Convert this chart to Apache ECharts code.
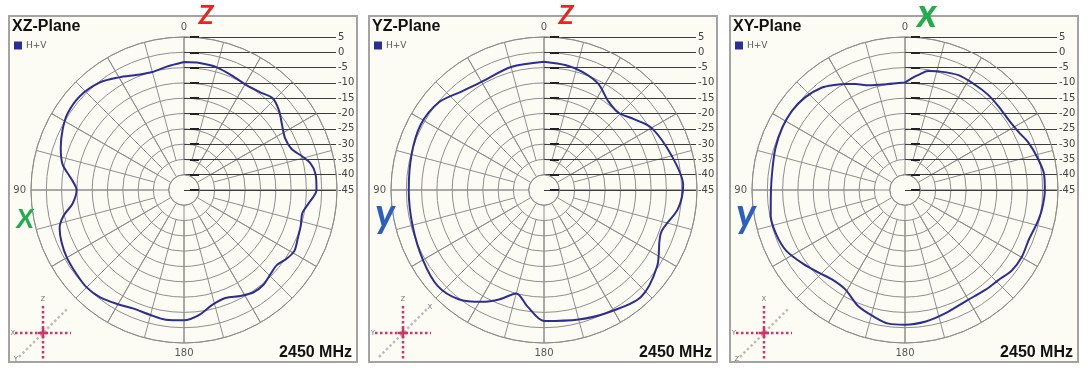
<!DOCTYPE html>
<html><head><meta charset="utf-8">
<script src="https://cdn.jsdelivr.net/npm/echarts@6/dist/echarts.min.js"></script>
<style>
html,body{margin:0;padding:0;background:#ffffff;}
#wrap{position:relative;width:1089px;height:372px;overflow:hidden;}
.panel{position:absolute;top:15px;width:346px;height:344px;background:#fcfbf4;border:2px solid #a3a3a3;}
#c{position:absolute;left:0;top:0;width:1089px;height:372px;}
</style>
</head><body>
<div id="wrap">
<div class="panel" style="left:8px"></div>
<div class="panel" style="left:368px"></div>
<div class="panel" style="left:729px"></div>
<div id="c"></div>
</div>
<script>
// ---------- data ----------
const panelTitles = ['XZ-Plane', 'YZ-Plane', 'XY-Plane'];
const frequencyLabel = '2450 MHz';
const seriesName = 'H+V';
const radialMin = -45, radialMax = 5, radialStep = 5;
const angleLabelValues = [0, 90, 180];

const anglesXZ = [0, 8, 15, 22, 30, 38, 48, 57, 64, 71, 78, 84, 90, 97, 102, 107, 113, 120, 128, 135, 142, 150, 157, 165, 172, 180, 187, 194, 201, 208, 214, 220, 226, 231, 236, 241, 247, 253, 259, 264, 270, 277, 282, 286, 291, 297, 303, 310, 316, 322, 329, 336, 345, 353];
const gainXZ   = [-3.2, -4.3, -5.1, -4.4, -2.5, -0.4, 0.8, 0.5, -0.8, -2.4, -4.4, -7.8, -9.9, -8.3, -4.8, -2.5, -1.5, -0.8, -0.4, 0.0, -0.5, -1.9, -2.9, -2.7, -2.2, -2.4, -3.9, -6.4, -7.2, -5.8, -4.6, -4.6, -5.6, -6.0, -4.7, -3.8, -4.6, -5.1, -5.6, -4.0, -1.7, -1.7, -2.8, -4.9, -7.4, -7.9, -6.7, -4.5, -3.3, -4.5, -5.1, -4.6, -3.5, -3.2];

const anglesYZ = [0, 15, 30, 40, 50, 62, 75, 90, 105, 120, 132, 142, 151, 158, 165, 172, 180, 195, 207, 222, 236, 250, 262, 272, 285, 300, 308, 316, 324, 333, 342, 350];
const gainYZ   = [-3.1, -3.4, -4.2, -3.0, -0.3, 0.6, -0.2, -0.8, -0.5, 0.7, 1.8, 0.3, -3.2, -6.5, -10.0, -6.5, -2.2, -1.2, 0.1, 2.2, -0.4, -4.3, -0.8, 0.5, -1.8, -4.4, -7.5, -9.9, -9.2, -6.0, -4.4, -3.6];

const anglesXY = [0, 10, 19, 25, 29, 34, 39, 47, 55, 63, 72, 80, 90, 101, 109, 117, 126, 134, 141, 149, 158, 166, 173, 180, 189, 198, 209, 219, 226, 233, 240, 248, 256, 262, 270, 277, 284, 291, 297, 304, 312, 319, 326, 335, 344, 349, 353, 356];
const gainXY   = [-9.9, -9.9, -8.8, -6.8, -5.4, -3.6, -1.9, -0.5, 0.1, 0.0, -0.5, -1.1, -1.2, -0.3, -0.5, -1.4, -3.9, -6.0, -7.3, -7.1, -4.1, -2.4, -1.0, -1.0, -1.5, -2.6, -3.6, -3.1, -2.6, -1.3, -1.0, -1.4, -0.5, 0.2, 0.7, 0.7, -0.5, -1.8, -3.3, -4.1, -4.0, -3.7, -3.7, -3.6, -4.7, -5.4, -7.0, -8.2];

const panelAngles = [anglesXZ, anglesYZ, anglesXY];
const panelGains = [gainXZ, gainYZ, gainXY];

const topLetters = ['Z', 'Z', 'x'];
const topLetterColors = ['#e8241f', '#e8241f', '#1fae4b'];
const sideLetters = ['X', 'y', 'y'];
const sideLetterColors = ['#1fae4b', '#2d5fc0', '#2d5fc0'];
const iconLabels = [['Z', 'X', 'Y'], ['Z', 'Y', 'X'], ['X', 'Y', 'Z']];
const iconDiagUpper = [false, true, false];

// ---------- layout ----------
const PANEL_L = [8, 368, 729];
const PANEL_W = 350;
const CY = 190, CX_OFF = 176, R = 153;
const GRID_COLOR = '#8e8e8e';
const LINE_COLOR = '#2b2e94';
const span = radialMax - radialMin;

const option = {
  backgroundColor: 'transparent',
  animation: false,
  polar: [], angleAxis: [], radiusAxis: [],
  grid: [], xAxis: [], yAxis: [],
  title: [], legend: [], series: [], graphic: []
};

function closedData(angles, gains) {
  const d = angles.map((a, k) => [gains[k], a]);
  d.push([gains[0], angles[0] + 360]);
  return d;
}

function letterFont(ch) {
  if (ch === 'x' || ch === 'y') return 'italic bold 40px Lato';
  return 'italic bold 27px Lato';
}

for (let i = 0; i < 3; i++) {
  const L = PANEL_L[i];
  const cx = L + CX_OFF;
  const rA = R * radialStep / span;
  const rB = R * 2 * radialStep / span;
  option.polar.push({ center: [cx, CY], radius: [rA, R] });
  option.angleAxis.push({
    polarIndex: 2 * i, type: 'value', min: 0, max: 360, interval: 30,
    startAngle: 90, clockwise: false,
    axisLine: { show: true, lineStyle: { color: GRID_COLOR, width: 1 } },
    axisTick: { show: false },
    axisLabel: { margin: 5, color: '#555', fontSize: 10, fontFamily: 'DejaVu Sans',
      formatter: v => angleLabelValues.includes(v) ? String(v) : '' },
    splitLine: { show: true, lineStyle: { color: GRID_COLOR, width: 1 } }
  });
  option.radiusAxis.push({
    polarIndex: 2 * i, type: 'value', min: radialMin + radialStep, max: radialMax, interval: radialStep,
    axisLine: { show: false }, axisTick: { show: false }, axisLabel: { show: false },
    splitLine: { show: true, lineStyle: { color: GRID_COLOR, width: 1 } }
  });
  option.polar.push({ center: [cx, CY], radius: [rB, R] });
  option.angleAxis.push({
    polarIndex: 2 * i + 1, type: 'value', min: 0, max: 360, interval: 15,
    startAngle: 90, clockwise: false,
    axisLine: { show: false }, axisTick: { show: false }, axisLabel: { show: false },
    splitLine: { show: true, lineStyle: { color: GRID_COLOR, width: 1 } }
  });
  option.radiusAxis.push({
    polarIndex: 2 * i + 1, type: 'value', min: radialMin + 2 * radialStep, max: radialMax, show: false
  });

  option.grid.push({ left: cx, top: CY - R, width: 152, height: R });
  option.xAxis.push({ gridIndex: i, type: 'value', min: 0, max: 1, show: false });
  option.yAxis.push({
    gridIndex: i, type: 'value', position: 'right', min: radialMin, max: radialMax, interval: radialStep,
    axisLine: { show: false }, axisTick: { show: false },
    axisLabel: { color: '#444', fontSize: 10, fontFamily: 'DejaVu Sans', margin: 2 },
    splitLine: { show: true, lineStyle: { color: '#3c3c3c', width: 1 } }
  });
  option.yAxis.push({
    gridIndex: i, type: 'value', position: 'left', offset: -6, min: radialMin, max: radialMax, interval: radialStep,
    axisLine: { show: false }, axisLabel: { show: false }, splitLine: { show: false },
    axisTick: { show: true, inside: true, length: 9, lineStyle: { color: '#222', width: 2 } }
  });

  option.series.push({
    type: 'line', name: seriesName, coordinateSystem: 'polar', polarIndex: 2 * i,
    data: closedData(panelAngles[i], panelGains[i]),
    smooth: 0.3, symbol: 'none', showSymbol: false, z: 5,
    lineStyle: { color: LINE_COLOR, width: 2 }, itemStyle: { color: LINE_COLOR }
  });

  option.title.push({
    text: panelTitles[i], left: L + 4, top: 19, padding: 0,
    textStyle: { fontFamily: 'Liberation Sans', fontWeight: 'bold', fontSize: 16, color: '#111' }
  });
  option.title.push({
    text: frequencyLabel, right: 1089 - (L + PANEL_W - 6), top: 345, padding: 0,
    textStyle: { fontFamily: 'Liberation Sans', fontWeight: 'bold', fontSize: 16, color: '#111' }
  });
  option.legend.push({
    left: L + 6, top: 41, padding: 0, data: [seriesName], icon: 'rect',
    itemWidth: 8, itemHeight: 8, selectedMode: false,
    textStyle: { fontSize: 9, color: '#555', fontFamily: 'DejaVu Sans', padding: [0, 0, 0, -1] }
  });

  option.graphic.push({
    type: 'text', x: cx + 22, y: topLetters[i] === 'x' ? 14 : 15, z: 20,
    style: { text: topLetters[i], fill: topLetterColors[i], font: letterFont(topLetters[i]), align: 'center', verticalAlign: 'middle' }
  });
  option.graphic.push({
    type: 'text', x: L + 17, y: sideLetters[i] === 'y' ? 214 : 219, z: 20,
    style: { text: sideLetters[i], fill: sideLetterColors[i], font: letterFont(sideLetters[i]), align: 'center', verticalAlign: 'middle' }
  });

  const pink = '#d2336b', grey = '#bdbdbd';
  const labels = iconLabels[i];
  option.graphic.push({
    type: 'group', x: L + 35, y: 333, z: 20,
    children: [
      { type: 'line', shape: { x1: -24, y1: 24, x2: 24, y2: -24 }, style: { stroke: grey, lineWidth: 2.5, lineDash: [2.5, 2.5] } },
      { type: 'line', shape: { x1: -28, y1: 0, x2: 28, y2: 0 }, style: { stroke: pink, lineWidth: 2.5, lineDash: [2.5, 2.5] } },
      { type: 'line', shape: { x1: 0, y1: -27, x2: 0, y2: 27 }, style: { stroke: pink, lineWidth: 2.5, lineDash: [2.5, 2.5] } },
      { type: 'line', shape: { x1: -5, y1: 0, x2: 5, y2: 0 }, style: { stroke: pink, lineWidth: 2.5 } },
      { type: 'line', shape: { x1: 0, y1: -5, x2: 0, y2: 5 }, style: { stroke: pink, lineWidth: 2.5 } },
      { type: 'text', x: 0, y: -34, style: { text: labels[0], fill: '#777', font: '7px DejaVu Sans', align: 'center', verticalAlign: 'middle' } },
      { type: 'text', x: -30, y: 0, style: { text: labels[1], fill: '#777', font: '7px DejaVu Sans', align: 'center', verticalAlign: 'middle' } },
      { type: 'text', x: iconDiagUpper[i] ? 27 : -27, y: iconDiagUpper[i] ? -26 : 26, style: { text: labels[2], fill: '#777', font: '7px DejaVu Sans', align: 'center', verticalAlign: 'middle' } }
    ]
  });
}

const chart = echarts.init(document.getElementById('c'), null, { renderer: 'canvas' });
chart.setOption(option);
</script>
</body></html>
